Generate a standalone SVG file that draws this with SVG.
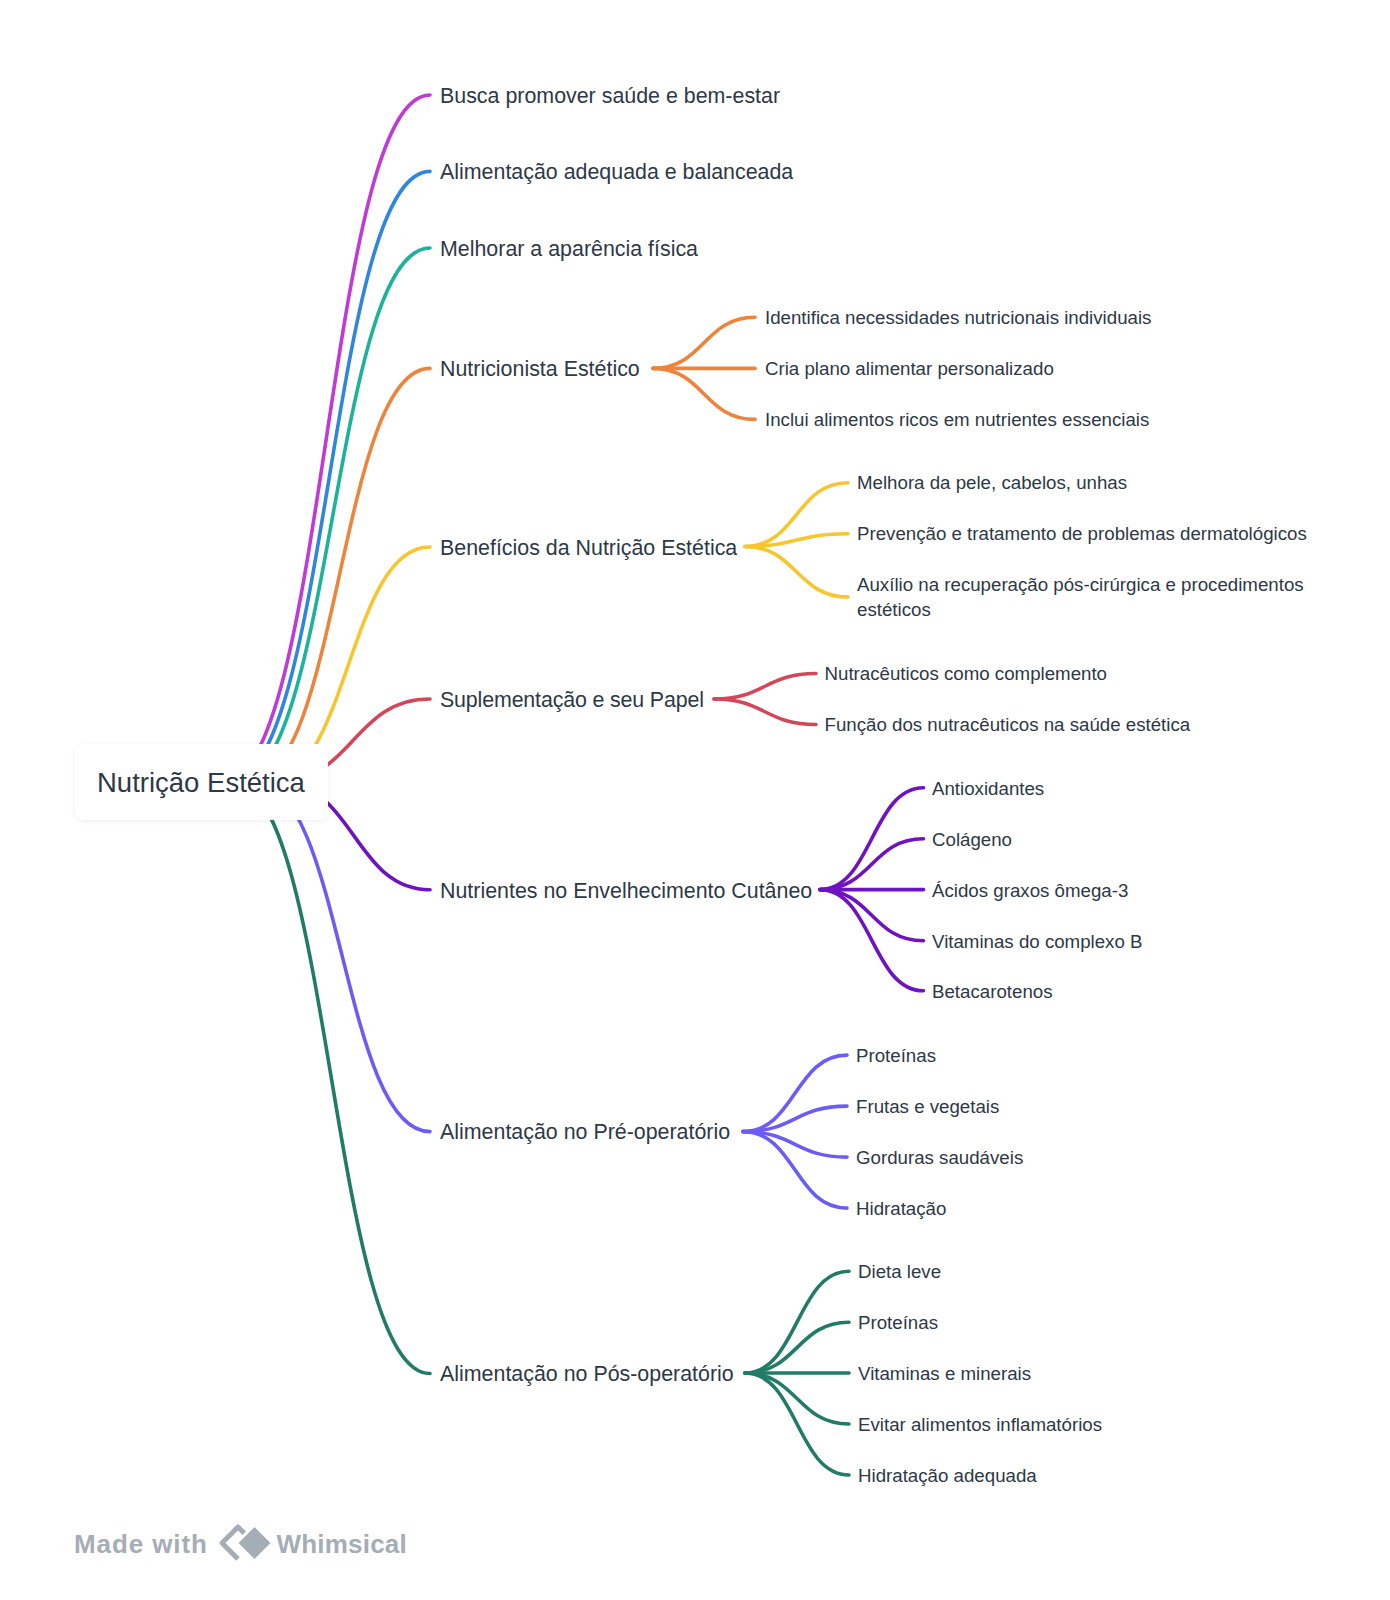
<svg xmlns="http://www.w3.org/2000/svg" width="1390" height="1600" viewBox="0 0 1390 1600">
<defs>
<style>
.e{fill:none;stroke-width:3.6;stroke-linecap:round}
.mag{stroke:#BF3AD7}.blu{stroke:#2F86DE}.tea{stroke:#1DB39B}.ora{stroke:#EC843B}.yel{stroke:#F7C52C}.red{stroke:#D4475B}.pur{stroke:#6F13C2}.ind{stroke:#6B5CF6}.grn{stroke:#227B67}
text{font-family:"Liberation Sans",Arial,sans-serif;fill:#2E3846}
.t0{font-size:27.5px}
.t1{font-size:21.4px}
.t2{font-size:18.7px}
.wm{font-family:"Liberation Sans",Arial,sans-serif;font-weight:bold;font-size:26px;fill:#A5ADB6}
</style>
<filter id="sh" x="-10%" y="-20%" width="120%" height="150%">
<feDropShadow dx="0" dy="1" stdDeviation="2.5" flood-color="#000" flood-opacity="0.07"/>
</filter>
</defs>
<rect width="1390" height="1600" fill="#fff"/>
<g id="connectors">
<path class="e mag" d="M222.6,782 C326.3,782 326.3,95 430,95"/>
<path class="e blu" d="M228.7,782 C329.4,782 329.4,171.4 430,171.4"/>
<path class="e tea" d="M235.7,782 C332.9,782 332.9,248 430,248"/>
<path class="e ora" d="M248.7,782 C339.4,782 339.4,368.4 430,368.4"/>
<path class="e yel" d="M267,782 C348.5,782 348.5,547 430,547"/>
<path class="e red" d="M276,782 C353,782 353,699 430,699"/>
<path class="e pur" d="M278,782 C354,782 354,889.8 430,889.8"/>
<path class="e ind" d="M254.7,782 C342.4,782 342.4,1131.6 430,1131.6"/>
<path class="e grn" d="M232.5,782 C331.3,782 331.3,1373.5 430,1373.5"/>

<path class="e ora" d="M653,368.4 C704,368.4 704,317.3 755,317.3"/>
<path class="e ora" d="M653,368.4 L755,368.4"/>
<path class="e ora" d="M653,368.4 C704,368.4 704,419.4 755,419.4"/>

<path class="e yel" d="M745,546.5 C796.5,546.5 796.5,482.7 848,482.7"/>
<path class="e yel" d="M745,546.5 C796.5,546.5 796.5,533.7 848,533.7"/>
<path class="e yel" d="M745,546.5 C796.5,546.5 796.5,597 848,597"/>

<path class="e red" d="M714,699 C765,699 765,673.5 816,673.5"/>
<path class="e red" d="M714,699 C765,699 765,724.5 816,724.5"/>

<path class="e pur" d="M820,889.6 C871.7,889.6 871.7,787.8 923.5,787.8"/>
<path class="e pur" d="M820,889.6 C871.7,889.6 871.7,838.8 923.5,838.8"/>
<path class="e pur" d="M820,889.6 L923.5,889.6"/>
<path class="e pur" d="M820,889.6 C871.7,889.6 871.7,940.8 923.5,940.8"/>
<path class="e pur" d="M820,889.6 C871.7,889.6 871.7,990.8 923.5,990.8"/>

<path class="e ind" d="M743,1131.6 C795,1131.6 795,1055.1 847,1055.1"/>
<path class="e ind" d="M743,1131.6 C795,1131.6 795,1106.1 847,1106.1"/>
<path class="e ind" d="M743,1131.6 C795,1131.6 795,1157.1 847,1157.1"/>
<path class="e ind" d="M743,1131.6 C795,1131.6 795,1208.1 847,1208.1"/>

<path class="e grn" d="M745,1373 C797,1373 797,1271.2 849,1271.2"/>
<path class="e grn" d="M745,1373 C797,1373 797,1322.2 849,1322.2"/>
<path class="e grn" d="M745,1373 L849,1373"/>
<path class="e grn" d="M745,1373 C797,1373 797,1424 849,1424"/>
<path class="e grn" d="M745,1373 C797,1373 797,1475 849,1475"/>
</g>

<g id="root">
<rect x="75" y="744" width="253" height="76" rx="9" fill="#fff" filter="url(#sh)"/>
<text class="t0" x="97" y="791.8">Nutrição Estética</text>
</g>

<g id="n1"><text class="t1" x="440" y="102.7">Busca promover saúde e bem-estar</text></g>
<g id="n2"><text class="t1" x="440" y="179.1">Alimentação adequada e balanceada</text></g>
<g id="n3"><text class="t1" x="440" y="255.7">Melhorar a aparência física</text></g>
<g id="n4"><text class="t1" x="440" y="376.1">Nutricionista Estético</text></g>
<g id="n4a"><text class="t2" x="765" y="324">Identifica necessidades nutricionais individuais</text></g>
<g id="n4b"><text class="t2" x="765" y="375.1">Cria plano alimentar personalizado</text></g>
<g id="n4c"><text class="t2" x="765" y="426.1">Inclui alimentos ricos em nutrientes essenciais</text></g>

<g id="n5"><text class="t1" x="440" y="554.7">Benefícios da Nutrição Estética</text></g>
<g id="n5a"><text class="t2" x="857" y="489.4">Melhora da pele, cabelos, unhas</text></g>
<g id="n5b"><text class="t2" x="857" y="540.4">Prevenção e tratamento de problemas dermatológicos</text></g>
<g id="n5c"><text class="t2" x="857" y="591.4">Auxílio na recuperação pós-cirúrgica e procedimentos<tspan x="857" y="615.9">estéticos</tspan></text></g>

<g id="n6"><text class="t1" x="440" y="706.7" letter-spacing="-0.15">Suplementação e seu Papel</text></g>
<g id="n6a"><text class="t2" x="824.5" y="680.2">Nutracêuticos como complemento</text></g>
<g id="n6b"><text class="t2" x="824.5" y="731.2">Função dos nutracêuticos na saúde estética</text></g>

<g id="n7"><text class="t1" x="440" y="897.5">Nutrientes no Envelhecimento Cutâneo</text></g>
<g id="n7a"><text class="t2" x="932" y="794.5">Antioxidantes</text></g>
<g id="n7b"><text class="t2" x="932" y="845.5">Colágeno</text></g>
<g id="n7c"><text class="t2" x="932" y="896.5">Ácidos graxos ômega-3</text></g>
<g id="n7d"><text class="t2" x="932" y="947.5">Vitaminas do complexo B</text></g>
<g id="n7e"><text class="t2" x="932" y="997.5">Betacarotenos</text></g>

<g id="n8"><text class="t1" x="440" y="1139.3">Alimentação no Pré-operatório</text></g>
<g id="n8a"><text class="t2" x="856" y="1061.8">Proteínas</text></g>
<g id="n8b"><text class="t2" x="856" y="1112.8">Frutas e vegetais</text></g>
<g id="n8c"><text class="t2" x="856" y="1163.8">Gorduras saudáveis</text></g>
<g id="n8d"><text class="t2" x="856" y="1214.8">Hidratação</text></g>

<g id="n9"><text class="t1" x="440" y="1381.2">Alimentação no Pós-operatório</text></g>
<g id="n9a"><text class="t2" x="858" y="1277.9">Dieta leve</text></g>
<g id="n9b"><text class="t2" x="858" y="1328.9">Proteínas</text></g>
<g id="n9c"><text class="t2" x="858" y="1379.7">Vitaminas e minerais</text></g>
<g id="n9d"><text class="t2" x="858" y="1430.7">Evitar alimentos inflamatórios</text></g>
<g id="n9e"><text class="t2" x="858" y="1481.7">Hidratação adequada</text></g>

<g id="watermark">
<text class="wm" x="74" y="1552.5" letter-spacing="0.9">Made with</text>
<path d="M238,1527 L222,1543 L238,1559" fill="none" stroke="#A5ADB6" stroke-width="5" stroke-linejoin="round"/>
<path d="M238,1527 L245,1534" fill="none" stroke="#A5ADB6" stroke-width="5" stroke-linecap="round"/>
<path d="M254.5,1525 L272.5,1543 L254.5,1561 L236.5,1543 Z" fill="#A5ADB6" stroke="#fff" stroke-width="3" stroke-linejoin="round"/>
<text class="wm" x="276.5" y="1552.5" letter-spacing="0.2">Whimsical</text>
</g>
</svg>
